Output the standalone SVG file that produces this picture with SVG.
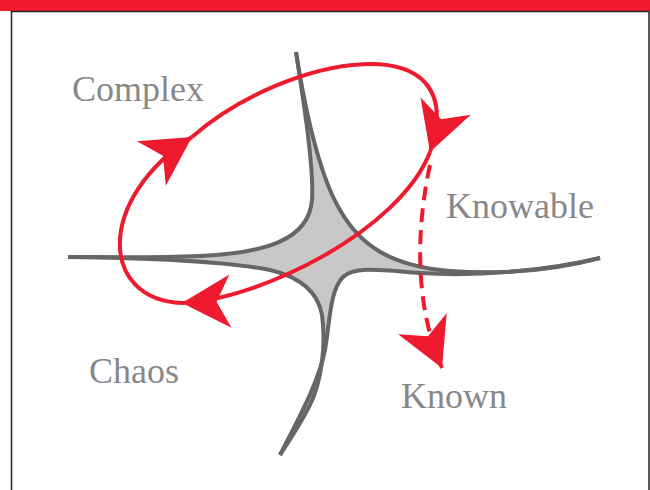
<svg xmlns="http://www.w3.org/2000/svg" width="650" height="490" viewBox="0 0 650 490">
<style>
.frame{fill:none;stroke:#222;stroke-width:1.5}
.axis{fill:none;stroke:#666;stroke-width:4;stroke-linecap:butt}
.loop{fill:none;stroke:#ee1b2f;stroke-width:4}
.dash{fill:none;stroke:#ee1b2f;stroke-width:4;stroke-dasharray:14,8}
.lbl{font-family:"Liberation Serif","Times New Roman",serif;font-size:36px;fill:#888}
</style>
<defs>
<marker id="ah" markerUnits="userSpaceOnUse" markerWidth="60" markerHeight="60" viewBox="-46 -26 50 52" refX="0" refY="0" orient="auto">
<path d="M0,0 L-42,-23 L-30,0 L-42,23 Z" fill="#ee1b2f"/>
</marker>
</defs>
<rect x="0" y="0" width="650" height="11" fill="#ee1b2f"/>
<path class="frame" d="M11.5,490 L11.5,11.5 L649,11.5 L649,490"/>
<g id="domains">
<path fill="#c8c8c8" d="M296,52 C305,110 314,170 312,200 C309,240 265,253 200,256 C150,258 100,257 68,257 C150,258 230,262 270,270 C300,277 318,292 322,315 C326,345 322,380 310,405 C300,425 290,440 280,455 C295,425 318,385 325,350 C330,320 330,290 343,277 C355,266 380,270 420,273 C480,277 550,270 600,258 C570,266 520,276 450,271 C390,266 360,245 340,210 C325,185 310,140 296,52 Z"/>
<path class="axis" d="M296,52 C305,110 314,170 312,200 C309,240 265,253 200,256 C150,258 100,257 68,257"/>
<path class="axis" d="M296,52 C310,140 325,185 340,210 C360,245 390,266 450,271 C520,276 570,266 600,258"/>
<path class="axis" d="M68,257 C150,258 230,262 270,270 C300,277 318,292 322,315 C326,345 322,380 310,405 C300,425 290,440 280,455"/>
<path class="axis" d="M280,455 C295,425 318,385 325,350 C330,320 330,290 343,277 C355,266 380,270 420,273 C480,277 550,270 600,258"/>
</g>
<g id="connectors">
<path class="loop" d="M430,152 C400,230 260,300 182,303" marker-end="url(#ah)"/>
<path class="loop" d="M182,303 C100,300 95,200 192,137" marker-end="url(#ah)"/>
<path class="loop" d="M192,137 C285,55 475,20 430,152" marker-end="url(#ah)"/>
<path class="dash" d="M430,165 C418,220 412,300 442,368" marker-end="url(#ah)"/>
</g>
<g id="complex"><text class="lbl" x="72" y="101">Complex</text></g>
<g id="knowable"><text class="lbl" x="446" y="218">Knowable</text></g>
<g id="chaos"><text class="lbl" x="89" y="383">Chaos</text></g>
<g id="known"><text class="lbl" x="401" y="408">Known</text></g>
</svg>
